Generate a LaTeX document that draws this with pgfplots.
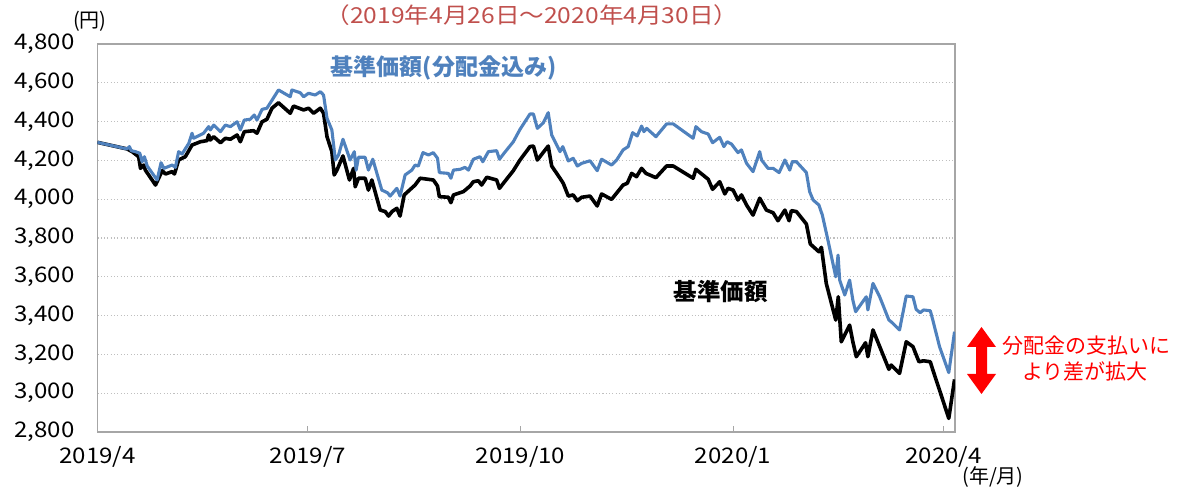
\documentclass[border=0pt]{standalone}
\usepackage{fontspec}
\setmainfont{Noto Sans CJK JP}
\newfontfamily\widefont[FakeStretch=1.12]{Noto Sans CJK JP}
\usepackage{pgfplots}
\usepackage{pgfplotstable}
\pgfplotsset{compat=1.18}
\definecolor{fundblue}{RGB}{79,129,189}
\definecolor{titlered}{RGB}{192,80,77}
\definecolor{annred}{RGB}{255,0,0}

\pgfplotstableread{
d v
0 4293
12.8 4259
13.8 4271
14.6 4250
16.4 4245
18.3 4237
19.3 4193
20.3 4219
21.5 4171
25.8 4099
27.5 4188
28.7 4159
32.3 4176
33.7 4164
35.1 4245
36.6 4233
39.5 4288
40.9 4340
41.6 4314
45.9 4340
48.1 4374
48.8 4357
50.3 4382
53.2 4348
55.3 4382
57.5 4374
60.4 4399
61.8 4357
63.5 4408
66.1 4412
67.8 4434
69.0 4408
71.2 4463
73.3 4469
74.8 4497
78.3 4563
83.4 4528
84.1 4563
87.7 4549
89.2 4528
91.3 4546
94.2 4537
96.4 4554
97.8 4537
99.3 4417
101.4 4357
102.9 4202
104.3 4228
106.2 4309
109.3 4202
111.1 4245
111.9 4150
112.9 4216
115.8 4216
117.2 4150
119.1 4206
123.0 4047
125.5 4033
126.6 4016
129.5 4056
130.9 4016
133.1 4125
136.0 4150
137.4 4176
138.8 4171
140.8 4240
143.2 4228
145.3 4240
147.1 4211
147.9 4137
151.8 4133
152.9 4108
154.0 4150
156.9 4154
159.0 4164
160.5 4150
162.6 4206
165.5 4219
166.7 4193
169.1 4245
172.7 4250
173.9 4206
175.9 4237
179.9 4296
182.8 4360
187.1 4439
188.6 4439
190.3 4365
192.9 4394
195.0 4446
196.5 4331
200.1 4245
201.3 4271
203.7 4197
205.8 4211
207.6 4171
209.5 4185
213.1 4198
216.2 4147
218.1 4206
222.4 4176
224.6 4202
227.4 4254
229.6 4271
231.5 4343
233.5 4326
235.4 4377
236.4 4348
237.6 4365
241.6 4322
246.2 4388
249.1 4388
257.7 4314
258.9 4374
261.3 4348
264.2 4336
266.1 4291
269.2 4319
271.0 4271
272.4 4296
274.3 4284
277.1 4240
278.6 4254
280.8 4185
283.6 4142
286.5 4245
287.3 4202
290.1 4159
292.3 4159
294.9 4137
297.4 4202
299.5 4150
300.6 4193
302.4 4193
306.7 4137
308.1 4039
309.6 3996
312.1 3970
313.6 3918
316.0 3790
319.4 3600
320.4 3712
321.1 3583
323.3 3506
325.4 3583
326.8 3480
328.0 3420
332.6 3497
333.3 3429
335.5 3566
338.4 3497
342.4 3377
343.4 3368
347.0 3326
349.9 3501
352.8 3497
354.2 3432
355.9 3415
357.4 3429
360.3 3425
361.4 3377
364.3 3240
368.3 3106
370.8 3317
}\bluedata

\pgfplotstableread{
d v
0 4293
12.8 4259
15.0 4245
17.8 4219
18.6 4159
20.0 4176
20.7 4150
25.1 4073
28.0 4147
29.4 4130
32.3 4142
33.3 4130
35.1 4202
38.0 4219
40.9 4279
44.5 4296
47.4 4302
48.1 4331
48.8 4305
50.3 4322
53.2 4291
55.3 4314
57.5 4309
60.4 4331
61.8 4296
63.5 4348
67.5 4353
69.0 4340
71.2 4399
73.3 4412
75.5 4469
78.3 4497
83.4 4443
84.8 4480
89.2 4460
91.3 4469
93.5 4443
96.4 4469
97.8 4443
99.3 4322
101.4 4245
102.4 4125
103.6 4150
106.2 4223
109.0 4099
110.8 4159
111.5 4064
112.9 4108
115.8 4108
117.2 4047
118.7 4099
122.3 3944
124.5 3936
125.9 3913
127.4 3936
129.5 3953
130.9 3913
132.7 4022
137.4 4073
139.6 4108
145.3 4099
147.1 4068
147.9 4013
151.8 4010
152.9 3982
154.0 4022
158.3 4039
161.2 4068
162.6 4090
164.8 4095
166.2 4073
168.4 4113
172.7 4099
173.9 4056
175.6 4082
179.9 4147
182.8 4202
187.1 4271
188.6 4274
190.3 4202
195.0 4274
196.5 4171
200.1 4108
201.5 4082
203.7 4016
205.8 4022
207.6 3992
209.5 4010
213.1 4016
216.2 3965
218.1 4027
222.4 3999
227.4 4073
229.2 4082
231.1 4133
233.2 4116
235.4 4159
237.3 4133
241.6 4111
246.2 4171
249.1 4171
257.7 4108
258.9 4154
264.2 4103
266.1 4051
269.2 4090
271.4 4027
272.8 4056
275.0 4047
277.1 3996
278.6 4022
280.8 3970
283.6 3918
286.5 4005
289.4 3944
292.3 3930
294.4 3889
297.4 3944
299.2 3889
300.2 3941
302.4 3936
306.7 3872
308.4 3769
312.1 3729
313.2 3752
315.3 3566
319.4 3377
320.5 3497
321.8 3265
325.4 3351
326.8 3265
328.3 3188
332.3 3260
333.3 3188
335.5 3326
342.4 3123
343.4 3145
347.0 3102
349.9 3265
352.8 3240
355.4 3162
357.4 3167
360.3 3162
361.4 3120
364.3 3016
368.3 2870
370.8 3071
}\blackdata

\begin{document}
\begin{tikzpicture}[x=1bp,y=1bp]
\begin{axis}[
  name=ax,
  scale only axis, width=857.5bp, height=388bp,
  xmin=0, xmax=371, ymin=2800, ymax=4800,
  axis line style={draw=gray!70, line width=1.3bp},
  ymajorgrids,
  grid style={draw=gray!50, line width=1.1bp, dash pattern=on 1.1bp off 2.2bp},
  ytick={2800,3000,...,4800},
  xtick={0,91,183,275,366},
  xticklabels={2019/4,2019/7,2019/10,2020/1,2020/4},
  xtick pos=left,
  tick align=inside,
  major tick length=6bp,
  xtick style={draw=gray!70, line width=1bp},
  ytick style={draw=none},
  ticklabel style={font=\widefont\fontsize{21.5bp}{24bp}\selectfont, text=black},
  /pgf/number format/assume math mode=true,
  /pgf/number format/1000 sep={,},
  yticklabel style={xshift=-19.5bp},
  xticklabel style={yshift=-11bp},
]
\addplot[black, line width=3.6bp, line join=round] table[x=d,y=v]{\blackdata};
\addplot[fundblue, line width=3.1bp, line join=round] table[x=d,y=v]{\bluedata};
\end{axis}
\pgfresetboundingbox
\begin{scope}[shift={(ax.south west)}, xshift=-97.5bp, yshift=-57bp]
\path[use as bounding box] (0,0) rectangle (1183,489);
\node[text=titlered, font=\widefont\fontsize{22bp}{26bp}\selectfont] at (532,474) {（2019年4月26日～2020年4月30日）};
\node[font=\fontsize{20bp}{24bp}\selectfont] at (90,468) {(円)};
\node[font=\fontsize{20bp}{24bp}\selectfont] at (993,12) {(年/月)};
\node[text=fundblue, font=\bfseries\fontsize{23bp}{26bp}\selectfont] at (443.5,421.5) {基準価額(分配金込み)};
\node[text=black, font=\bfseries\fontsize{23.5bp}{26bp}\selectfont] at (720.5,197) {基準価額};
\node[text=annred, font=\fontsize{21bp}{24bp}\selectfont] at (1086,143.5) {分配金の支払いに};
\node[text=annred, font=\fontsize{21bp}{24bp}\selectfont] at (1085,117.5) {より差が拡大};
\fill[annred] (981.5,162) -- (996,142) -- (987,142) -- (987,115) -- (996,115) -- (981.5,95) -- (967,115) -- (976,115) -- (976,142) -- (967,142) -- cycle;
\end{scope}
\end{tikzpicture}
\end{document}
